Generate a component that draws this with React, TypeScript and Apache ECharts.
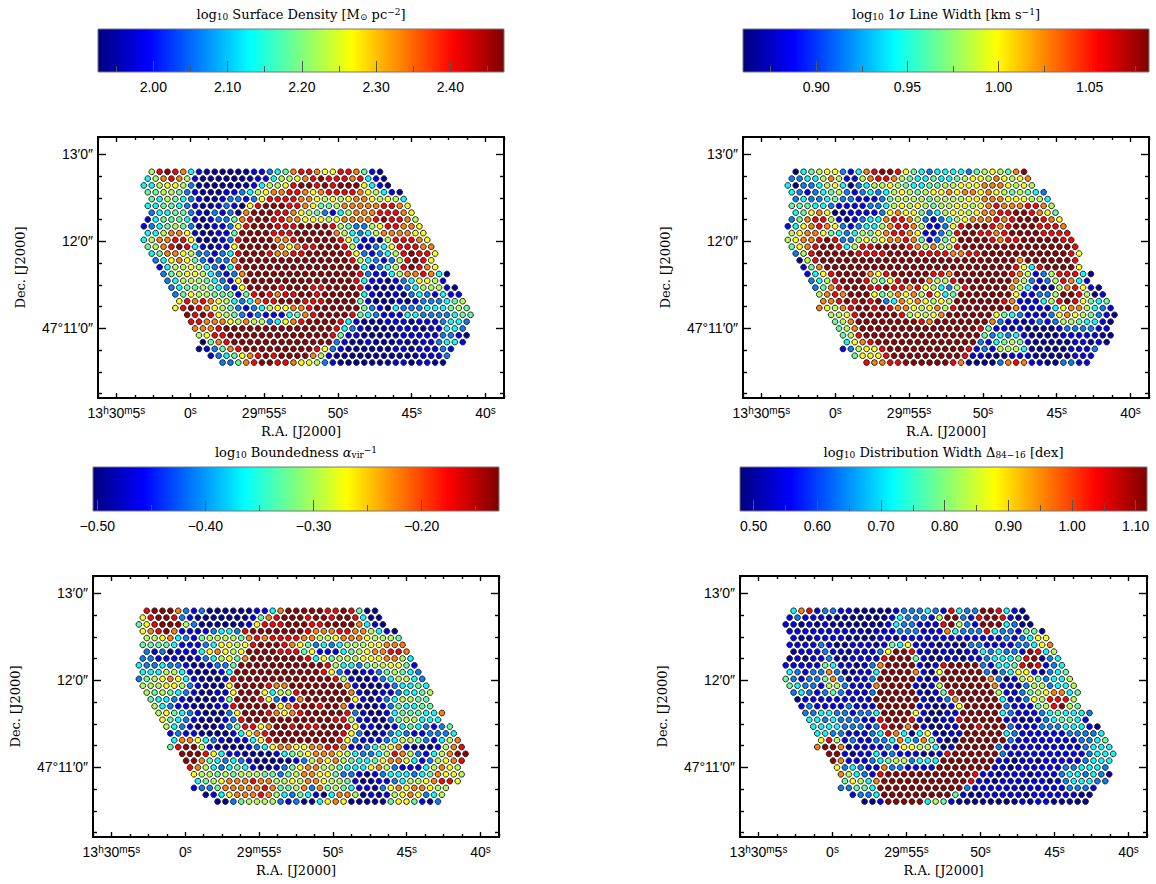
import React, { useEffect, useRef } from "react";
import * as echarts from "echarts";

// Colour level read from each dot: 0 navy, 1 blue, 2 azure, 3 cyan, 4 sea green, 5 lime,
// 6 yellow, 7 orange, 8 red, 9 dark red, x black (below the colour range).
const LEVEL_FRACTIONS = [0.03, 0.125, 0.25, 0.375, 0.47, 0.55, 0.625, 0.75, 0.875, 0.98];

// Half-column offset of the first dot in each row.
const ROW_OFFSETS = [0, -1, -2, -1, 0, -1, 0, -1, -2, -1, -2, -1, 0, 1, 2, 3, 4, 5, 6, 7, 6, 9, 10, 11, 12, 13, 12, 15, 18];

const SURFACE_DENSITY = [
  "5898731000 0001123478 8766887410",
  "3578751000 0000113556 7898887831 0",
  "3356652000 0000135568 9989899963 10",
  "4455421000 1123567788 7678888765 310",
  "4354321001 2212688887 7656567765 653",
  "3344321001 21x6899988 7644577777 8876",
  "2334421021 2x79998876 5421357778 8876",
  "1344431012 2478998877 6665677778 98875",
  "1234542001 1268999888 9999854225 688776",
  "3357761001 1499998889 9999753235 777766",
  "3577886000 1289999778 9999986311 x588876",
  "4578983101 1699999767 8899985112 3688877",
  "3477652212 3899987788 9999986212 3589886",
  "2367642122 7999999999 9999985321 258986",
  "1355653213 8999999999 9999993123 589876",
  "2456653212 7999999999 9999982113 5778730",
  "2355543216 9999999999 9999831101 236651",
  "2344543216 9999899988 9999810001 2355510",
  "2465544414 8987889989 9999310010 2321311",
  "6878765323 7889998889 9994100010 1222345",
  "6898765421 2356677899 9999421x32 22333454",
  "9898654212 1113478999 9843211133 2222344",
  "8877765755 2367899998 3100011101 112332",
  "7778999999 9999999983 2100001110 11332",
  "5688999999 9999999841 1000001111 12210",
  "x478999999 9999999210 0100010011 2331",
  "0124789999 9999986210 0000011011 121",
  "1234678989 9997510000 00000001112",
  "2247899887 6652100000 001101100",
];

const LINE_WIDTH = [
  "x345662137 8998643233 3324565479",
  "2233575115 7887543343 34566576567",
  "3x22356302 3556543344 556667776565",
  "3212345212 3235654566 7677676545432",
  "2322342211 1245555455 5566777666553",
  "4443321111 2235656545 56656787778875",
  "34676x0111 1267664235 66567788998764",
  "2478851012 3378875212 356777878999876",
  "1367876212 3357887511 2689998789998887",
  "5677643235 4678876112 4899887899998888",
  "5677898225 6567787412 46999987889999988",
  "4678998358 8999987575 58999999999999998",
  "2589999988 8899998888 77889999999999986",
  "0589999999 9999999999 9999999979999998",
  "1479999999 9999999999 9999999863 899996",
  "1368999976 8999998879 9999998751 2588830",
  "2358999854 6899975589 9999997521 258731",
  "2478999889 8878653258 9999975310 0578610",
  "5787999645 7675863499 9999961122 59985x1",
  "7789898923 7676565999 9998711135 8986434",
  "7657899898 7765675899 9999971111 36775321",
  "5568999998 5656799999 9643211126 7654210",
  "4579999999 9879999999 7211012125 543310",
  "4579999999 9999999984 1101000012 22211",
  "4589999999 9999999942 3231000011 11100",
  "3678999999 9999999213 4541000001 1010",
  "1256689999 9999998121 5553000001 112",
  "4666899999 9999811000 11100000111",
  "8778899999 9870000278 711002211",
];

const BOUNDEDNESS = [
  "8999721200 0000113799 9998898400",
  "6899821000 0000147899 98998998300",
  "4689995200 0000168889 998899997310",
  "6789711112 3328999999 9877788775310",
  "5567321455 5547878888 7755677765554",
  "4444311123 6656899987 64232355566777",
  "212x111367 6569999888 46111345677887",
  "2211100123 5647999999 983645556667753",
  "3223221001 2249999999 9999853324 556641",
  "3335531000 1399999999 9998621011 245432",
  "2456763100 0189999999 9999985100 1235532",
  "5556652100 0699998779 9999997100 0123343",
  "5454321001 1699963558 9999997100 1123345",
  "4332100001 4999862117 9999996101 235544",
  "5321100011 8999996789 9899710001 243344",
  "5643210002 6999876789 9999821001 3444337",
  "6432100012 8999999999 9988511002 455333",
  "5321000124 8867998988 9998611001 3432124",
  "1211000013 6789999999 9986200123 2112223",
  "3776321011 3689999999 9862111235 5421357",
  "4899510000 1236776677 8871123567 10001578",
  "9998631100 0013456777 6532235875 2135799",
  "9974323210 0000125767 5433467763 125678",
  "875323431x 0124677554 3336752111 35765",
  "6554545554 4245776642 2101233323 47665",
  "3456777877 5565776554 1001123556 7886",
  "1224777778 7445727454 3110267677655",
  "0136777875 3243103775 01015676235",
  "0024555521 2003676000 004664102",
];

const DISTRIBUTION_WIDTH = [
  "3781221100 0001222321 8322998310",
  "1211100000 0001322215 99218998100",
  "1101010000 0001322111 895219993200",
  "1111111111 0111222111 7322283221440",
  "1001111000 0110111111 1111111212366",
  "1111210011 1014361110 10022111122367",
  "0111211011 1269981101 10113232219835",
  "0101120011 1189994100 110112333489023",
  "1111143110 1279999101 8999921334898123",
  "3212272001 1399997106 9999920236610234",
  "4212247201 1299999101 9999997201 5642335",
  "4322155211 1799991015 9999997110 2552335",
  "2321242111 2999991014 8999995112 4567734",
  "0111111111 9999991012 7999993112 658885",
  "1211112111 9999911001 6999992111 458954",
  "2233221223 9999610011 9999932111 2343332",
  "3323222118 9998100118 9999911001 234431",
  "3333222128 9979100119 9899921112 2233310",
  "3322111238 7303610119 9999321111 1122223",
  "6851211223 7327410099 9999211111 1112234",
  "7997011112 1665530199 9992111111 11112333",
  "9910113121 1100189999 9921111111 1112333",
  "9711123455 2333999999 9110110111 112333",
  "6232117221 1119999999 1101111112 23332",
  "7532189999 9999999811 0111011123 32320",
  "4653799999 9999998110 1111110123 3322",
  "2244399999 9999992111 1110111112 221",
  "1223999999 9994100111 11011111100",
  "0019999935 4100000000 101100000",
];

const RA_MAJOR = [65, 60, 55, 50, 45, 40];
const RA_LABELS = ["{n|13}{u|h}{n|30}{u|m}{n|5}{u|s}", "{n|0}{u|s}", "{n|29}{u|m}{n|55}{u|s}", "{n|50}{u|s}", "{n|45}{u|s}", "{n|40}{u|s}"];
const RA_MINOR = [66.25, 63.75, 62.5, 61.25, 58.75, 57.5, 56.25, 53.75, 52.5, 51.25, 48.75, 47.5, 46.25, 43.75, 42.5, 41.25, 38.75];
const DEC_MAJOR = [11, 12, 13];
const DEC_LABELS = ["47°11′0″", "12′0″", "13′0″"];
const DEC_MINOR = [10.25, 10.5, 10.75, 11.25, 11.5, 11.75, 12.25, 12.5, 12.75, 13.25];

const JET = ["#00007f", "#0000ff", "#007fff", "#00ffff", "#7fff7f", "#ffff00", "#ff7f00", "#ff0000", "#7f0000"];

const PANELS = [
  {
    rows: SURFACE_DENSITY, left: 98, top: 137, barTop: 29, barH: 43, w: 406, titleY: 15, raFirst: 62.61,
    min: 1.9255, max: 2.4723, major: [2.0, 2.1, 2.2, 2.3, 2.4], minor: [1.95, 2.05, 2.15, 2.25, 2.35, 2.45],
    title: "log{sub|10} Surface Density [M{sub|⊙} pc{sup|−2}]",
  },
  {
    rows: LINE_WIDTH, left: 743, top: 137, barTop: 29, barH: 43, w: 406, titleY: 15, raFirst: 62.68,
    min: 0.8598, max: 1.0825, major: [0.9, 0.95, 1.0, 1.05], minor: [0.875, 0.925, 0.975, 1.025, 1.075],
    title: "log{sub|10} 1{i|σ} Line Width [km s{sup|−1}]",
  },
  {
    rows: BOUNDEDNESS, left: 93, top: 576, barTop: 467, barH: 44, w: 406, titleY: 453, raFirst: 62.61,
    min: -0.504, max: -0.1284, major: [-0.5, -0.4, -0.3, -0.2], minor: [-0.45, -0.35, -0.25, -0.15],
    title: "log{sub|10} Boundedness {i|α}{sub|vir}{sup|−1}",
  },
  {
    rows: DISTRIBUTION_WIDTH, left: 740, top: 576, barTop: 467, barH: 44, w: 407, titleY: 453, raFirst: 62.63,
    min: 0.4785, max: 1.1177, major: [0.5, 0.6, 0.7, 0.8, 0.9, 1.0, 1.1], minor: [0.55, 0.65, 0.75, 0.85, 0.95, 1.05],
    title: "log{sub|10} Distribution Width Δ{sub|84−16} [dex]",
  },
];

const RA_HALF_STEP = 0.2666;
const DEC_FIRST = 12.8;
const DEC_STEP = 0.0783;

const SERIF = "DejaVu Serif";
const SANS = "Liberation Sans";

function buildOption() {
  const grid: any[] = [];
  const xAxis: any[] = [];
  const yAxis: any[] = [];
  const series: any[] = [];
  const visualMap: any[] = [];
  const title: any[] = [];

  const makeAxis = (extra: any) => ({
    type: "value",
    scale: true,
    splitLine: { show: false },
    axisLine: { show: false, onZero: false },
    axisTick: { show: false },
    axisLabel: { show: false },
    ...extra,
  });
  const ticks = (values: number[], length: number, color = "#000", width = 1.4) => ({
    show: true,
    inside: true,
    length,
    customValues: values,
    lineStyle: { color, width },
  });

  PANELS.forEach((p, i) => {
    const plotGrid = grid.length;
    grid.push({ left: p.left, top: p.top, width: p.w, height: 261, show: true, borderColor: "#000", borderWidth: 2, backgroundColor: "transparent", outerBoundsMode: "none" });
    const barGrid = grid.length;
    grid.push({
      left: p.left, top: p.barTop, width: p.w, height: p.barH, show: true, borderColor: "#777", borderWidth: 1, outerBoundsMode: "none",
      backgroundColor: new echarts.graphic.LinearGradient(0, 0, 1, 0, JET.map((color, k) => ({ offset: k / (JET.length - 1), color }))),
    });

    const xBase = { gridIndex: plotGrid, min: 38.75, max: 66.25, inverse: true };
    const xIndex = xAxis.length;
    xAxis.push(makeAxis({
      ...xBase, position: "bottom",
      axisTick: ticks(RA_MAJOR, 5),
      axisLabel: {
        show: true, customValues: RA_MAJOR, margin: 7, color: "#000",
        formatter: (v: number) => RA_LABELS[RA_MAJOR.indexOf(Math.round(v))] ?? "",
        rich: {
          n: { fontFamily: SANS, fontSize: 14, color: "#000" },
          u: { fontFamily: SANS, fontSize: 10, color: "#000", padding: [0, 0, 6, 0] },
        },
      },
      name: "R.A. [J2000]", nameLocation: "middle", nameGap: 27,
      nameTextStyle: { fontFamily: SERIF, fontSize: 13, color: "#000" },
    }));
    xAxis.push(makeAxis({ ...xBase, position: "bottom", axisTick: ticks(RA_MINOR, 3) }));
    xAxis.push(makeAxis({ ...xBase, position: "top", axisTick: ticks(RA_MAJOR, 5) }));
    xAxis.push(makeAxis({ ...xBase, position: "top", axisTick: ticks(RA_MINOR, 3) }));

    const yBase = { gridIndex: plotGrid, min: 10.2, max: 13.2 };
    const yIndex = yAxis.length;
    yAxis.push(makeAxis({
      ...yBase, position: "left",
      axisTick: ticks(DEC_MAJOR, 8),
      axisLabel: {
        show: true, customValues: DEC_MAJOR, margin: 5, color: "#000", fontFamily: SANS, fontSize: 14,
        formatter: (v: number) => DEC_LABELS[DEC_MAJOR.indexOf(Math.round(v))] ?? "",
      },
      name: "Dec. [J2000]", nameLocation: "middle", nameGap: 71,
      nameTextStyle: { fontFamily: SERIF, fontSize: 13, color: "#000" },
    }));
    yAxis.push(makeAxis({ ...yBase, position: "left", axisTick: ticks(DEC_MINOR, 4) }));
    yAxis.push(makeAxis({ ...yBase, position: "right", axisTick: ticks(DEC_MAJOR, 8) }));
    yAxis.push(makeAxis({ ...yBase, position: "right", axisTick: ticks(DEC_MINOR, 4) }));

    // colour bar axes
    const barBase = { gridIndex: barGrid, min: p.min, max: p.max };
    xAxis.push(makeAxis({
      ...barBase, position: "bottom",
      axisTick: ticks(p.major, 11, "#555", 1),
      axisLabel: {
        show: true, customValues: p.major, margin: 8, color: "#000", fontFamily: SANS, fontSize: 14,
        formatter: (v: number) => v.toFixed(2).replace("-", "−"),
      },
    }));
    xAxis.push(makeAxis({ ...barBase, position: "bottom", axisTick: ticks(p.minor, 6, "#555", 1) }));
    yAxis.push({ type: "value", gridIndex: barGrid, min: 0, max: 1, show: false });

    const data: number[][] = [];
    p.rows.forEach((row, r) => {
      row.replace(/\s/g, "").split("").forEach((c, k) => {
        const value = c === "x" ? p.min - 1 : p.min + LEVEL_FRACTIONS[Number(c)] * (p.max - p.min);
        data.push([p.raFirst - RA_HALF_STEP * (ROW_OFFSETS[r] + 2 * k), DEC_FIRST - DEC_STEP * r, value]);
      });
    });
    series.push({
      type: "scatter", xAxisIndex: xIndex, yAxisIndex: yIndex, data,
      symbolSize: 5.7, itemStyle: { borderColor: "#222", borderWidth: 1, opacity: 1 }, silent: true,
    });
    visualMap.push({
      type: "continuous", show: false, seriesIndex: i, dimension: 2, min: p.min, max: p.max,
      inRange: { color: JET }, outOfRange: { color: "#000" },
    });

    title.push({
      text: p.title, left: p.left + p.w / 2, top: p.titleY - 8, textAlign: "center", padding: 0,
      textStyle: {
        fontFamily: SERIF, fontSize: 13, fontWeight: "normal", color: "#000",
        rich: {
          sub: { fontFamily: SERIF, fontSize: 9, color: "#000", padding: [5, 0, 0, 0] },
          sup: { fontFamily: SERIF, fontSize: 9, color: "#000", padding: [0, 0, 6, 0] },
          i: { fontFamily: SERIF, fontSize: 13, fontStyle: "italic", color: "#000" },
        },
      },
    });
  });

  return { animation: false, backgroundColor: "#fff", grid, xAxis, yAxis, series, visualMap, title };
}

export default function App() {
  const ref = useRef<HTMLDivElement>(null);
  useEffect(() => {
    document.body.style.margin = "0";
    const chart = echarts.init(ref.current!, null, { renderer: "svg" });
    chart.setOption(buildOption() as any);
    return () => chart.dispose();
  }, []);
  return <div ref={ref} style={{ position: "absolute", left: 0, top: 0, width: 1156, height: 884 }} />;
}
